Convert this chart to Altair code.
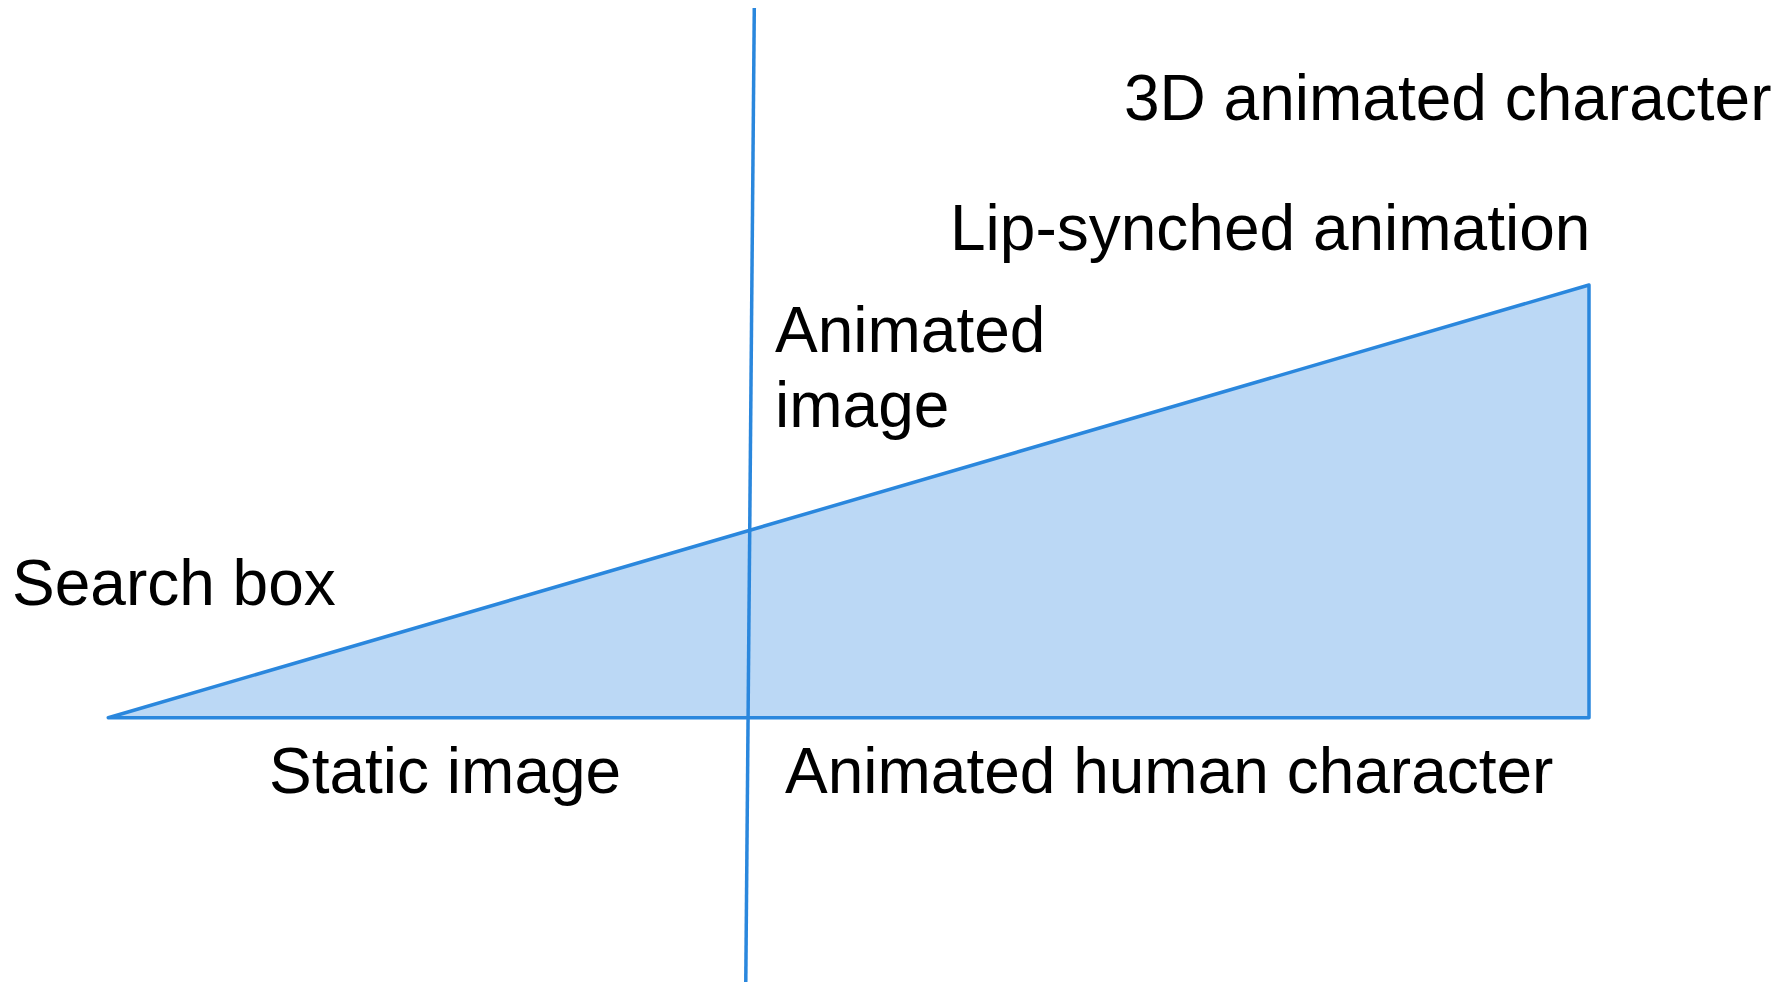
import altair as alt
import pandas as pd

W, H = 1774, 974

# Diagram coordinates (pixel-like units, origin top-left of plot area)
tri_x = [100.3, 1581.0, 1581.0, 100.3]
tri_y = [709.7, 277.0, 709.7, 709.7]
tri_order = [0, 1, 2, 3]

fill_x = [100.3, 1581.0]
fill_top = [709.7, 277.0]
fill_base = [709.7, 709.7]

div_x = [746.3, 737.7]
div_y = [-1.0, 982.0]

labels = ["3D animated character", "Lip-synched animation", "Animated", "image",
          "Search box", "Static image", "Animated human character"]
label_x = [1116, 942, 767, 767, 4, 261, 777]
label_y = [112, 242, 344, 419, 597, 785, 785]

xs = alt.Scale(domain=[0, W], nice=False, zero=False)
ys = alt.Scale(domain=[0, H], nice=False, zero=False, reverse=True)

STROKE = "#2a87dd"
FILL = "#bbd8f5"

fill_df = pd.DataFrame({"x": fill_x, "top": fill_top, "base": fill_base})
area = alt.Chart(fill_df).mark_area(color=FILL, opacity=1, interpolate="linear").encode(
    x=alt.X("x:Q", scale=xs, axis=None),
    y=alt.Y("top:Q", scale=ys, axis=None),
    y2="base:Q",
)

tri_df = pd.DataFrame({"x": tri_x, "y": tri_y, "o": tri_order})
outline = alt.Chart(tri_df).mark_line(color=STROKE, strokeWidth=3.5, strokeJoin="round", strokeCap="round").encode(
    x=alt.X("x:Q", scale=xs, axis=None),
    y=alt.Y("y:Q", scale=ys, axis=None),
    order="o:Q",
)

div_df = pd.DataFrame({"x": div_x, "y": div_y, "o": [0, 1]})
divider = alt.Chart(div_df).mark_line(color=STROKE, strokeWidth=3.5, clip=True).encode(
    x=alt.X("x:Q", scale=xs, axis=None),
    y=alt.Y("y:Q", scale=ys, axis=None),
    order="o:Q",
)

lab_df = pd.DataFrame({"t": labels, "x": label_x, "y": label_y})
text = alt.Chart(lab_df).mark_text(
    align="left", baseline="alphabetic", font="Liberation Sans", fontSize=64, color="#000000"
).encode(
    x=alt.X("x:Q", scale=xs, axis=None),
    y=alt.Y("y:Q", scale=ys, axis=None),
    text="t:N",
)

chart = alt.layer(area, outline, divider, text).properties(
    width=W, height=H, padding=0, background="white"
).configure_view(stroke=None)

chart.save("out.html", embed_options={"renderer": "svg", "actions": False})
